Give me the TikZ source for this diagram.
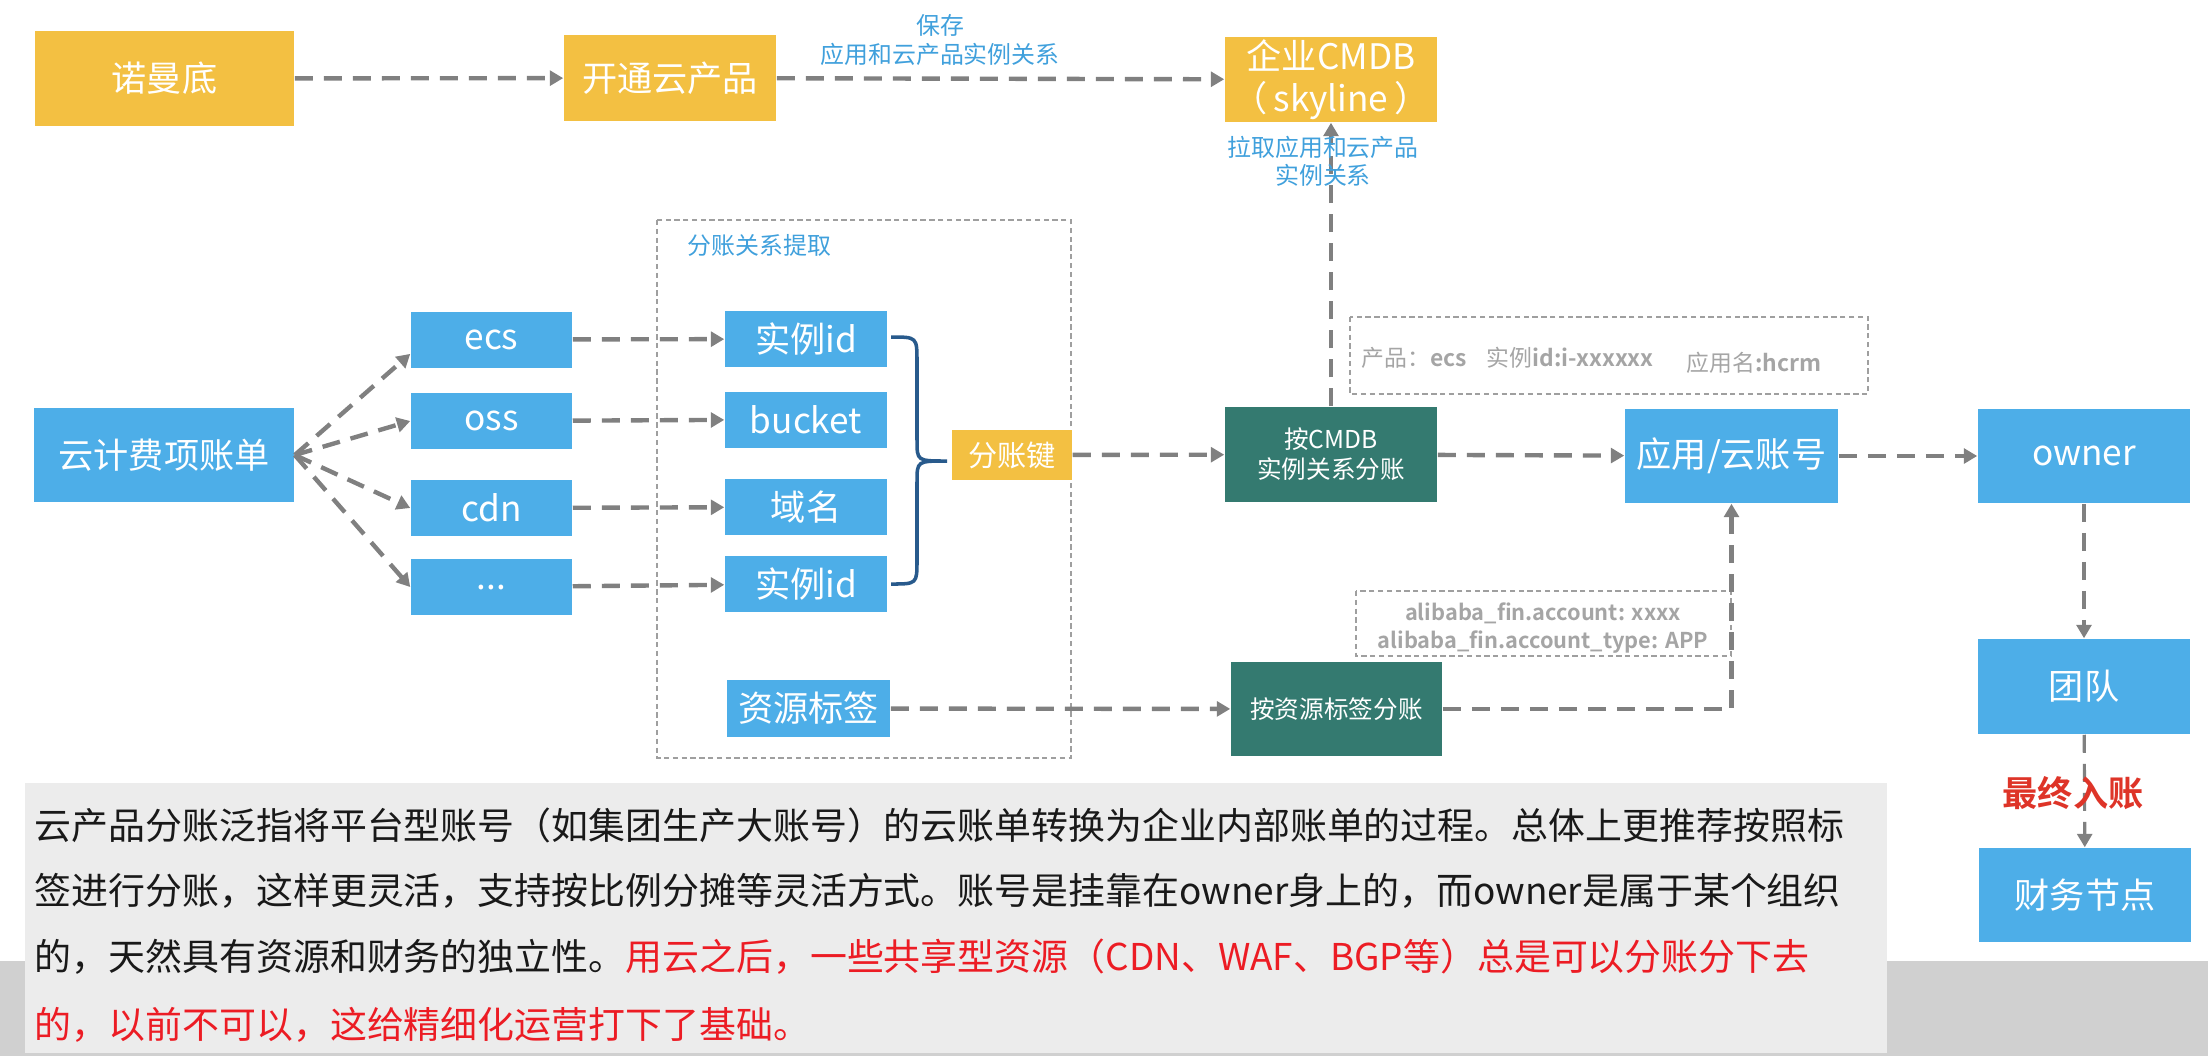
\documentclass[tikz,border=0pt]{standalone}
\usepackage{fontspec}
\setmainfont{Noto Sans CJK SC}[BoldFont={Noto Sans CJK SC Bold}]
\usetikzlibrary{arrows.meta,calc}
\definecolor{ylw}{RGB}{243,192,66}
\definecolor{blu}{RGB}{77,174,232}
\definecolor{tealbox}{RGB}{52,122,112}
\definecolor{arr}{RGB}{128,128,128}
\definecolor{lblue}{RGB}{64,160,220}
\definecolor{infogray}{RGB}{165,165,165}
\definecolor{txtbg}{RGB}{236,236,236}
\definecolor{band}{RGB}{208,208,208}
\definecolor{brc}{RGB}{40,90,140}
\definecolor{redtxt}{RGB}{236,28,36}
\definecolor{redlbl}{RGB}{222,52,40}
\definecolor{bodytxt}{RGB}{25,25,25}
\begin{document}
\begin{tikzpicture}[x=0.01cm,y=-0.01cm,
  box/.style={rectangle,inner sep=0pt,text=white,font=\fontsize{10}{12}\selectfont,align=center},
  ybox/.style={box,fill=ylw},
  bbox/.style={box,fill=blu},
  tbox/.style={box,fill=tealbox,font=\fontsize{7}{8.6}\selectfont},
  big/.style={minimum width=2.12cm,minimum height=0.94cm},
  small/.style={minimum width=1.61cm,minimum height=0.56cm},
  flow/.style={draw=arr,line width=1.25pt,dash pattern=on 0.18cm off 0.11cm,-{Triangle[length=3.8pt,width=4.2pt]}},
  thinflow/.style={flow,line width=0.9pt},
  dotbox/.style={draw=gray!75,line width=0.5pt,dash pattern=on 1.5pt off 1pt},
  lbl/.style={inner sep=0pt,text=lblue,font=\fontsize{6.8}{8}\selectfont,align=center},
  info/.style={inner sep=0pt,text=infogray,font=\fontsize{6.5}{7.8}\selectfont,anchor=west},
  body/.style={inner sep=0pt,anchor=west,font=\fontsize{10.5}{12}\selectfont,text=bodytxt}
]
\useasboundingbox (0,0) rectangle (2208,1056);
% background
\fill[band] (0,961) rectangle (2208,1056);
\fill[txtbg] (25,783) rectangle (1887,1053);

% dotted frames
\draw[dotbox] (657,220) rectangle (1071,758);
\draw[dotbox] (1350,317) rectangle (1868,394);
\draw[dotbox] (1356,591) rectangle (1731,656);

% top row
\node[ybox,minimum width=2.59cm,minimum height=0.95cm] (nuo) at (164.5,78.5) {诺曼底};
\node[ybox,minimum width=2.12cm,minimum height=0.86cm] (kt) at (670,78) {开通云产品};
\node[ybox,minimum width=2.12cm,minimum height=0.85cm] (cmdb) at (1331,79.5) {企业CMDB\\（\,skyline\,）};

% left column
\node[bbox,minimum width=2.60cm,minimum height=0.94cm] (bill) at (164,455) {云计费项账单};
\node[bbox,small] (ecs) at (491.5,339.5) {ecs};
\node[bbox,small] (oss) at (491.5,421) {oss};
\node[bbox,small] (cdn) at (491.5,508) {cdn};
\node[bbox,small] (dots) at (491.5,587) {...};

\node[bbox,small,minimum width=1.62cm] (id1) at (806,339) {实例id};
\node[bbox,small,minimum width=1.62cm] (bucket) at (806,419.5) {bucket};
\node[bbox,small,minimum width=1.62cm] (domain) at (806,507) {域名};
\node[bbox,small,minimum width=1.62cm] (id2) at (806,584) {实例id};
\node[bbox,minimum width=1.63cm,minimum height=0.57cm] (tag) at (808.5,708.5) {资源标签};

\node[ybox,minimum width=1.20cm,minimum height=0.50cm,font=\fontsize{8.3}{10}\selectfont] (key) at (1012,455) {分账键};

\node[tbox,minimum width=2.12cm,minimum height=0.95cm] (bycmdb) at (1331,454.5) {按CMDB\\实例关系分账};
\node[tbox,minimum width=2.11cm,minimum height=0.94cm] (bytag) at (1336.5,709) {按资源标签分账};

\node[bbox,minimum width=2.13cm,minimum height=0.94cm] (app) at (1731.5,456) {应用/云账号};
\node[bbox,big] (owner) at (2084,456) {owner};
\node[bbox,minimum width=2.12cm,minimum height=0.95cm] (team) at (2084,686.5) {团队};
\node[bbox,big] (fin) at (2085,895) {财务节点};

% brace
\draw[brc,line width=1pt] (891,337) .. controls (917,337) .. (917,362) -- (917,440)
  .. controls (917,461) .. (947,461) .. controls (917,461) .. (917,482) -- (917,560)
  .. controls (917,584) .. (891,584);

% connectors
\draw[flow] (nuo) -- (kt);
\draw[flow] (kt) -- (cmdb);
\draw[flow] (bill.east) -- ($(ecs.west)!0.5!(ecs.south west)$);
\draw[flow] (bill.east) -- (oss.west);
\draw[flow] (bill.east) -- (cdn.west);
\draw[flow] (bill.east) -- (dots.west);
\draw[flow] (ecs) -- (id1);
\draw[flow] (oss) -- (bucket);
\draw[flow] (cdn) -- (domain);
\draw[flow] (dots) -- (id2);
\draw[flow] (key) -- (bycmdb);
\draw[flow] (tag) -- (bytag);
\draw[flow] (bycmdb) -- (app);
\draw[flow] (app) -- (owner);
\draw[flow] (bycmdb.north) -- (cmdb.south);
\draw[flow] (bytag.east) -| (app.south);
\draw[thinflow] (owner) -- (team);
\draw[thinflow] (team) -- (fin);

% labels
\node[lbl] (save) at (940,40) {保存\\应用和云产品实例关系};
\node[lbl] (pull) at (1323,161) {拉取应用和云产品\\实例关系};
\node[lbl,anchor=west] (extract) at (687,245) {分账关系提取};
\node[info] (i1) at (1361,358) {产品：\textbf{ecs}};
\node[info] (i2) at (1486,358) {实例\textbf{id:i-xxxxxx}};
\node[info] (i3) at (1686,363) {应用名\textbf{:hcrm}};
\node[inner sep=0pt,text=infogray,font=\bfseries\fontsize{6.2}{8.2}\selectfont,align=center] (ali) at (1543,628)
  {alibaba\_fin.account: xxxx\\alibaba\_fin.account\_type: APP};
\node[inner sep=0pt,text=redlbl,font=\bfseries\fontsize{10}{12}\selectfont] (final) at (2073,793) {最终入账};

% body text
\node[body] (t1) at (34,825) {云产品分账泛指将平台型账号（如集团生产大账号）的云账单转换为企业内部账单的过程。总体上更推荐按照标};
\node[body] (t2) at (34,891) {签进行分账，这样更灵活，支持按比例分摊等灵活方式。账号是挂靠在owner身上的，而owner是属于某个组织};
\node[body] (t3) at (34,957) {的，天然具有资源和财务的独立性。\textcolor{redtxt}{用云之后，一些共享型资源（CDN、WAF、BGP等）总是可以分账分下去}};
\node[body,text=redtxt] (t4) at (34,1025) {的，以前不可以，这给精细化运营打下了基础。};
\end{tikzpicture}
\end{document}
